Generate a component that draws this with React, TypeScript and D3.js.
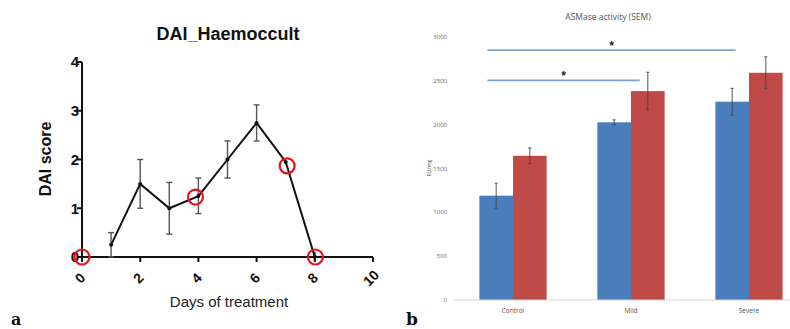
import React from "react";
import * as d3 from "d3";

// ---- Panel a: DAI_Haemoccult ----
const days = [1, 2, 3, 4, 5, 6, 7, 8];
const daiMean = [0.25, 1.5, 1.0, 1.25, 2.0, 2.75, 1.95, 0];
const daiLow = [0, 1.0, 0.47, 0.89, 1.62, 2.38, 1.95, 0];
const daiHigh = [0.5, 2.0, 1.53, 1.62, 2.38, 3.12, 1.95, 0];
const highlightX = [0, 3.9, 7.05, 8.02];
const highlightY = [0, 1.23, 1.87, 0];
const xTicksA = [0, 2, 4, 6, 8, 10];
const yTicksA = [0, 1, 2, 3, 4];

// ---- Panel b: ASMase activity ----
const categories = ["Control", "Mild", "Severe"];
const blueValues = [1190, 2027, 2262];
const blueErr = [142, 28, 152];
const redValues = [1645, 2383, 2592];
const redErr = [90, 215, 182];
const yTicksB = [0, 500, 1000, 1500, 2000, 2500, 3000];
const sigFrom = ["Control", "Control"];
const sigTo = ["Severe", "Mild"];
const sigStartFrac = [0.12, 0.12];
const sigEndFrac = [0.3, 0.63];
const sigLevel = [2850, 2505];

const BLUE = "#4a7ebb";
const RED = "#be4b48";

export default function App() {
  // Panel a scales
  const xA = d3.scaleLinear().domain([0, 10]).range([82, 373]);
  const yA = d3.scaleLinear().domain([0, 4]).range([257, 62]);
  const pts = days.map((d, i) => ({ x: d, y: daiMean[i], lo: daiLow[i], hi: daiHigh[i] }));
  const line = d3
    .line<{ x: number; y: number }>()
    .x((d) => xA(d.x))
    .y((d) => yA(d.y));

  // Panel b scales
  const xB = d3
    .scaleBand<string>()
    .domain(categories)
    .range([454, 808])
    .paddingInner(0.43)
    .paddingOuter(0.215);
  const yB = d3.scaleLinear().domain([0, 3000]).range([300, 37]);
  const bw = xB.bandwidth() / 2;

  const fontA = "'Liberation Sans', Arial, sans-serif";
  const fontB = "'Open Sans', 'Noto Sans', sans-serif";

  return (
    <div style={{ position: "absolute", left: 0, top: 0 }}>
      <svg width={790} height={329} style={{ display: "block", background: "#fff" }}>
        {/* ===== Panel a ===== */}
        <text x={228} y={40} textAnchor="middle" fontFamily={fontA} fontWeight="bold" fontSize={18} fill="#111">
          DAI_Haemoccult
        </text>
        {/* axes */}
        <line x1={xA(0)} x2={xA(0)} y1={yA(0)} y2={yA(4)} stroke="#111" strokeWidth={2} />
        <line x1={xA(0)} x2={xA(10)} y1={yA(0)} y2={yA(0)} stroke="#111" strokeWidth={2} />
        {yTicksA.map((t) => (
          <g key={"ya" + t}>
            <line x1={xA(0) - 5} x2={xA(0)} y1={yA(t)} y2={yA(t)} stroke="#111" strokeWidth={2} />
            <text x={xA(0) - 3} y={yA(t)} dy="0.36em" textAnchor="end" fontFamily={fontA} fontWeight="bold" fontSize={15} fill="#111">
              {t}
            </text>
          </g>
        ))}
        {xTicksA.map((t) => (
          <g key={"xa" + t}>
            <line x1={xA(t)} x2={xA(t)} y1={yA(0)} y2={yA(0) + 5} stroke="#111" strokeWidth={2} />
            <text
              transform={`translate(${xA(t) - 2},${yA(0) + 21}) rotate(-45)`}
              textAnchor="middle"
              dy="0.36em"
              fontFamily={fontA}
              fontWeight="bold"
              fontSize={14}
              fill="#111"
            >
              {t}
            </text>
          </g>
        ))}
        <text
          transform={`translate(51,159) rotate(-90)`}
          textAnchor="middle"
          fontFamily={fontA}
          fontWeight="bold"
          fontSize={16}
          fill="#111"
        >
          DAI score
        </text>
        <text x={229} y={307} textAnchor="middle" fontFamily={fontA} fontSize={15} fill="#222">
          Days of treatment
        </text>
        {/* error bars */}
        {pts.map((p, i) =>
          p.hi > p.lo ? (
            <g key={"ea" + i} stroke="#555" strokeWidth={1.4}>
              <line x1={xA(p.x)} x2={xA(p.x)} y1={yA(p.lo)} y2={yA(p.hi)} />
              <line x1={xA(p.x) - 3} x2={xA(p.x) + 3} y1={yA(p.hi)} y2={yA(p.hi)} />
              <line x1={xA(p.x) - 3} x2={xA(p.x) + 3} y1={yA(p.lo)} y2={yA(p.lo)} />
            </g>
          ) : null
        )}
        <path d={line(pts) || ""} fill="none" stroke="#111" strokeWidth={2} />
        {pts.map((p, i) => (
          <circle key={"pa" + i} cx={xA(p.x)} cy={yA(p.y)} r={2} fill="#111" />
        ))}
        <line x1={xA(8)} x2={xA(8)} y1={yA(0) - 5} y2={yA(0) + 5} stroke="#111" strokeWidth={1.5} />
        {highlightX.map((hx, i) => (
          <circle key={"hl" + i} cx={xA(hx)} cy={yA(highlightY[i])} r={7.5} fill="none" stroke="#e8141b" strokeWidth={2.2} />
        ))}
        <text x={11} y={325} fontFamily="'DejaVu Serif', 'Liberation Serif', serif" fontWeight="bold" fontSize={16} fill="#111">
          a
        </text>

        {/* ===== Panel b ===== */}
        <text x={608} y={20} textAnchor="middle" fontFamily={fontB} fontSize={8.5} fill="#555">
          ASMase activity (SEM)
        </text>
        {yTicksB.map((t) => (
          <text key={"yb" + t} x={447} y={yB(t)} dy="0.36em" textAnchor="end" fontFamily={fontB} fontSize={6} fill="#666">
            {t}
          </text>
        ))}
        <text
          transform={`translate(431,168) rotate(-90)`}
          textAnchor="middle"
          fontFamily={fontB}
          fontSize={5.5}
          fill="#555"
        >
          FU/mg
        </text>
        {categories.map((c, i) => {
          const x0 = xB(c) as number;
          return (
            <g key={"cat" + c}>
              <rect x={x0} y={yB(blueValues[i])} width={bw} height={yB(0) - yB(blueValues[i])} fill={BLUE} />
              <rect x={x0 + bw} y={yB(redValues[i])} width={bw} height={yB(0) - yB(redValues[i])} fill={RED} />
              {[
                { cx: x0 + bw / 2, v: blueValues[i], e: blueErr[i] },
                { cx: x0 + bw * 1.5, v: redValues[i], e: redErr[i] },
              ].map((b, j) => (
                <g key={"eb" + j} stroke="#444" strokeWidth={0.9}>
                  <line x1={b.cx} x2={b.cx} y1={yB(b.v - b.e)} y2={yB(b.v + b.e)} />
                  <line x1={b.cx - 1.5} x2={b.cx + 1.5} y1={yB(b.v + b.e)} y2={yB(b.v + b.e)} />
                  <line x1={b.cx - 1.5} x2={b.cx + 1.5} y1={yB(b.v - b.e)} y2={yB(b.v - b.e)} />
                </g>
              ))}
              <text x={x0 + bw} y={313} textAnchor="middle" fontFamily={fontB} fontSize={6.5} fill="#555">
                {c}
              </text>
            </g>
          );
        })}
        <line x1={453} x2={810} y1={yB(0)} y2={yB(0)} stroke="#d4d4d4" strokeWidth={1} />
        {sigLevel.map((lv, i) => {
          const xs = (xB(sigFrom[i]) as number) + xB.bandwidth() * sigStartFrac[i];
          const xe = (xB(sigTo[i]) as number) + xB.bandwidth() * sigEndFrac[i];
          return (
            <g key={"sig" + i}>
              <line x1={xs} x2={xe} y1={yB(lv)} y2={yB(lv)} stroke="#7ea3d2" strokeWidth={1.6} />
              <text x={(xs + xe) / 2} y={yB(lv)} textAnchor="middle" fontFamily={fontA} fontWeight="bold" fontSize={12} fill="#222">
                *
              </text>
            </g>
          );
        })}
        <text x={406} y={325} fontFamily="'DejaVu Serif', 'Liberation Serif', serif" fontWeight="bold" fontSize={17} fill="#111">
          b
        </text>
      </svg>
    </div>
  );
}
